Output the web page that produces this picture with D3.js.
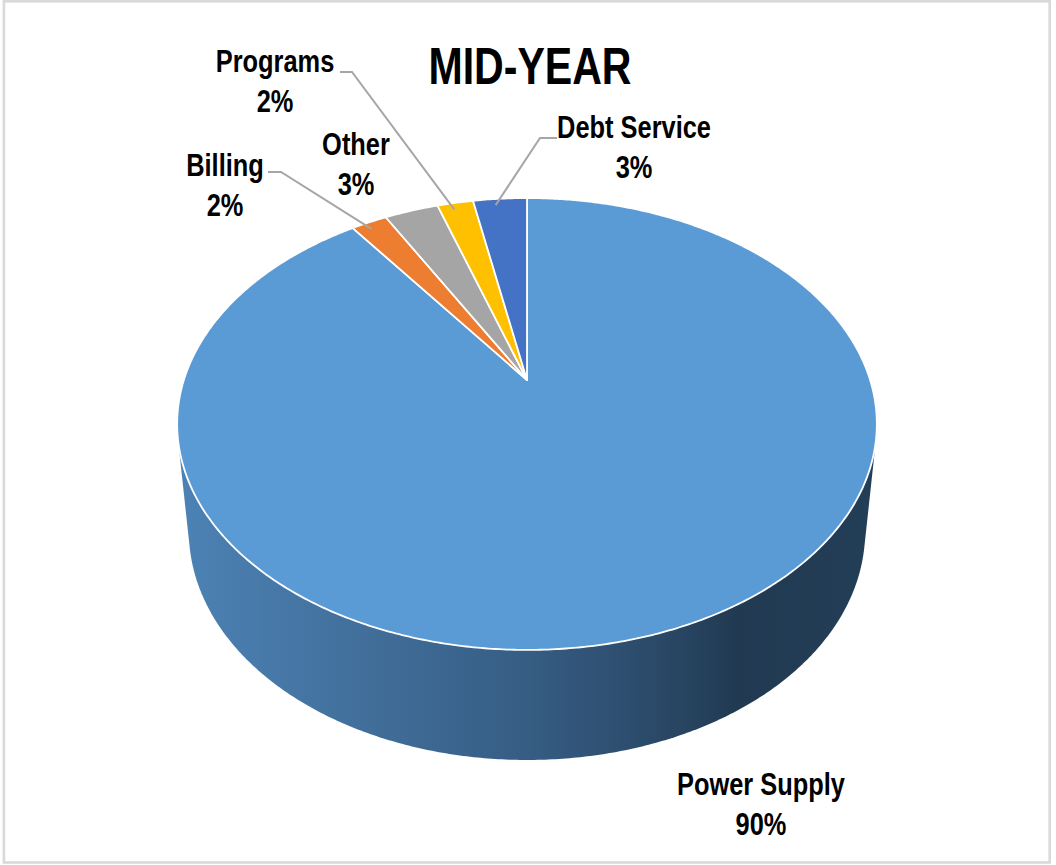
<!DOCTYPE html>
<html>
<head>
<meta charset="utf-8">
<script src="https://cdn.jsdelivr.net/npm/d3@7"></script>
<style>
  html, body { margin: 0; padding: 0; background: #fff; }
  svg { display: block; }
  text {
    font-family: 'Liberation Sans Narrow', 'Arial Narrow', 'Liberation Sans', Arial, sans-serif;
    font-weight: bold;
    fill: #000;
  }
</style>
</head>
<body>
<svg id="chart" width="1056" height="865"></svg>
<script>
// ---- data ----
const categories = ["Power Supply", "Billing", "Other", "Programs", "Debt Service"];
const shares = [90, 2, 3, 2, 3];
const sliceColors = ["#5b9bd5", "#ed7d31", "#a5a5a5", "#ffc000", "#4472c4"];
const chartTitle = "MID-YEAR";

// ---- label layout: centre x, first baseline y, optional leader (start, bend x) ----
const labelLayout = [
  { x: 761, y: 795, leader: null },
  { x: 225, y: 176, leader: { x0: 268, y0: 172, x1: 281 } },
  { x: 356, y: 155, leader: null },
  { x: 275, y: 72,  leader: { x0: 340, y0: 72,  x1: 352 } },
  { x: 634, y: 138, leader: { x0: 557, y0: 138, x1: 540 } }
];
const lineGap = 40;
const narrow = 0.82;   // horizontal squeeze for a condensed look

// ---- 3D camera for the tilted pie ----
const cam = {
  cx: 527, cy: 380,      // screen position of the pie centre
  f: 1364,               // focal length (px per radius unit)
  dist: 3.975,           // camera distance (radius units)
  pitch: Math.asin(0.6335),
  depth: 0.4325,         // thickness of the pie (radius units)
  converge: 0.5          // how strongly the side walls taper
};

function project(u, v, w) {
  const c = Math.cos(cam.pitch), s = Math.sin(cam.pitch);
  const Z = cam.dist - v * c - w * s;
  return [cam.cx + cam.f * u / Z, cam.cy + cam.f * (v * s - w * c) / Z];
}
// point on the rim at pie angle a (0 = 12 o'clock, clockwise), radius r, height w
function rimPoint(a, r, w) {
  const u = r * Math.sin(a), v = -r * Math.cos(a);
  if (w === 0) return project(u, v, 0);
  const top = project(u, v, 0), bot = project(u, v, w);
  return [top[0] + cam.converge * (bot[0] - top[0]), bot[1]];
}

const svg = d3.select("#chart");

// chart frame
svg.append("rect")
  .attr("x", 3.9).attr("y", 1.3)
  .attr("width", 1045.8).attr("height", 861.2)
  .attr("fill", "#fff")
  .attr("stroke", "#d9d9d9")
  .attr("stroke-width", 2.6);

const pie = d3.pie().sort(null).value(d => d)(shares);

// ---- side wall: hull of top and bottom rims ----
const steps = d3.range(0, 721).map(i => i / 720 * 2 * Math.PI);
const topRim = steps.map(a => rimPoint(a, 1, 0));
const botRim = steps.map(a => rimPoint(a, 1, -cam.depth));
const hull = d3.polygonHull(topRim.concat(botRim));
const xExt = d3.extent(hull, p => p[0]);

const defs = svg.append("defs");
const grad = defs.append("linearGradient")
  .attr("id", "wallShade")
  .attr("gradientUnits", "userSpaceOnUse")
  .attr("x1", xExt[0]).attr("y1", 0)
  .attr("x2", xExt[1]).attr("y2", 0);
[
  [0.00, "#4c82b5"],
  [0.25, "#42709c"],
  [0.50, "#365d84"],
  [0.68, "#2b4a69"],
  [0.80, "#213a52"],
  [1.00, "#233e57"]
].forEach(([o, col]) => grad.append("stop").attr("offset", o).attr("stop-color", col));

const closed = d3.line().curve(d3.curveLinearClosed);

svg.append("path")
  .attr("d", closed(hull))
  .attr("fill", "url(#wallShade)");

// ---- top face slices ----
svg.append("g").selectAll("path")
  .data(pie)
  .join("path")
  .attr("d", d => {
    const n = Math.max(4, Math.ceil((d.endAngle - d.startAngle) / (Math.PI / 360)));
    const pts = [project(0, 0, 0)];
    for (let i = 0; i <= n; i++) {
      const a = d.startAngle + (d.endAngle - d.startAngle) * i / n;
      pts.push(rimPoint(a, 1, 0));
    }
    return closed(pts);
  })
  .attr("fill", (d, i) => sliceColors[i])
  .attr("stroke", "#fff")
  .attr("stroke-width", 1.8)
  .attr("stroke-linejoin", "round");

// ---- leader lines ----
svg.append("g").selectAll("path")
  .data(pie.filter((d, i) => labelLayout[i].leader))
  .join("path")
  .attr("d", d => {
    const L = labelLayout[d.index].leader;
    const mid = d.startAngle + (d.endAngle - d.startAngle) * 0.4;
    const end = rimPoint(mid, 0.96, 0);
    return d3.line()([[L.x0, L.y0], [L.x1, L.y0], end]);
  })
  .attr("fill", "none")
  .attr("stroke", "#a6a6a6")
  .attr("stroke-width", 2);

// ---- data labels ----
const fmt = d3.format(".0%");
const labelGroups = svg.append("g").selectAll("g")
  .data(pie)
  .join("g");
labelGroups.append("text")
  .attr("text-anchor", "middle")
  .attr("font-size", 31)
  .attr("transform", d => `translate(${labelLayout[d.index].x},${labelLayout[d.index].y}) scale(${narrow},1)`)
  .text(d => categories[d.index]);
labelGroups.append("text")
  .attr("text-anchor", "middle")
  .attr("font-size", 31)
  .attr("transform", d => `translate(${labelLayout[d.index].x},${labelLayout[d.index].y + lineGap}) scale(${narrow},1)`)
  .text(d => fmt(d.value / d3.sum(shares)));

// ---- title ----
svg.append("text")
  .attr("text-anchor", "middle")
  .attr("font-size", 52)
  .attr("transform", `translate(530,84) scale(0.79,1)`)
  .text(chartTitle);
</script>
</body>
</html>
